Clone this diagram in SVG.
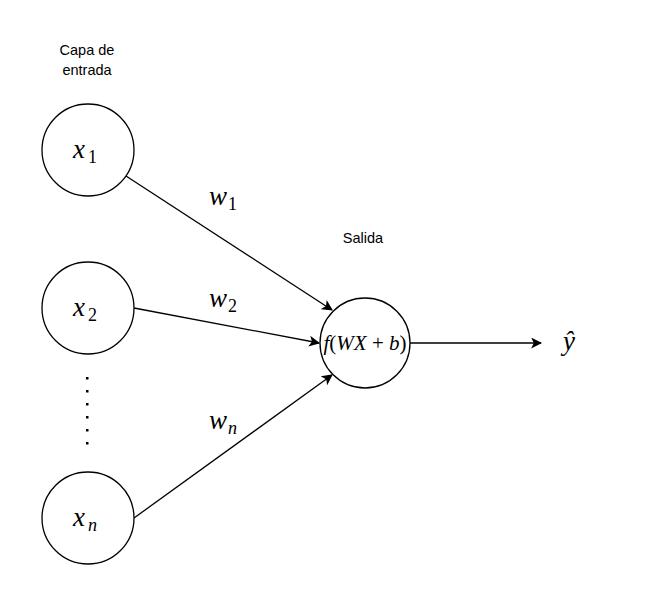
<svg xmlns="http://www.w3.org/2000/svg" width="671" height="602" viewBox="0 0 671 602">
<style>
.node{fill:#fff;stroke:#000;stroke-width:1.3}
.edge{fill:none;stroke:#000;stroke-width:1.3}
.lbl{font-family:"Liberation Sans",Arial,sans-serif;font-size:14.5px;fill:#000;text-anchor:middle}
.m{font-family:"Liberation Serif","Times New Roman",serif;font-style:italic;fill:#000}
.mr{font-family:"Liberation Serif","Times New Roman",serif;font-style:normal;fill:#000}
</style>
<defs>
<marker id="arr" viewBox="0 0 10 10" refX="9" refY="5" markerWidth="11" markerHeight="11" markerUnits="userSpaceOnUse" orient="auto">
<path d="M0,0 L10,5 L0,10 L2.5,5 Z" fill="#000"/>
</marker>
</defs>
<rect width="671" height="602" fill="#fff"/>
<g id="labels">
<text class="lbl" x="87" y="55">Capa de</text>
<text class="lbl" x="87" y="75">entrada</text>
<text class="lbl" x="363" y="243">Salida</text>
</g>
<g id="connectors">
<line class="edge" x1="126" y1="176" x2="332" y2="310" marker-end="url(#arr)"/>
<line class="edge" x1="134" y1="308" x2="319" y2="343" marker-end="url(#arr)"/>
<line class="edge" x1="134" y1="518" x2="332" y2="375" marker-end="url(#arr)"/>
<line class="edge" x1="410" y1="343" x2="541" y2="343" marker-end="url(#arr)"/>
</g>
<g id="x1">
<circle class="node" cx="88" cy="150" r="46"/>
<text class="m" x="73" y="158" font-size="27">x</text><text class="mr" x="88" y="163" font-size="18">1</text>
</g>
<g id="x2">
<circle class="node" cx="88" cy="308" r="46"/>
<text class="m" x="73" y="316" font-size="27">x</text><text class="mr" x="88" y="321" font-size="18">2</text>
</g>
<g id="dots" fill="#000">
<rect x="86" y="377" width="2.5" height="2.5"/>
<rect x="86" y="390" width="2.5" height="2.5"/>
<rect x="86" y="403" width="2.5" height="2.5"/>
<rect x="86" y="416" width="2.5" height="2.5"/>
<rect x="86" y="429" width="2.5" height="2.5"/>
<rect x="86" y="442" width="2.5" height="2.5"/>
</g>
<g id="xn">
<circle class="node" cx="88" cy="518" r="46"/>
<text class="m" x="73" y="526" font-size="27">x</text><text class="m" x="88" y="531" font-size="18">n</text>
</g>
<g id="out">
<circle class="node" cx="365" cy="343" r="45"/>
<text class="m" x="365" y="350" font-size="21" text-anchor="middle">f<tspan class="mr">(</tspan>WX<tspan class="mr"> + </tspan>b<tspan class="mr">)</tspan></text>
</g>
<g id="weights">
<text class="m" x="209" y="205" font-size="27">w</text><text class="mr" x="228" y="210" font-size="18">1</text>
<text class="m" x="209" y="307" font-size="27">w</text><text class="mr" x="228" y="312" font-size="18">2</text>
<text class="m" x="209" y="429" font-size="27">w</text><text class="m" x="228" y="434" font-size="18">n</text>
</g>
<g id="yhat">
<text class="m" x="569" y="350" font-size="27" text-anchor="middle">ŷ</text>
</g>
</svg>
